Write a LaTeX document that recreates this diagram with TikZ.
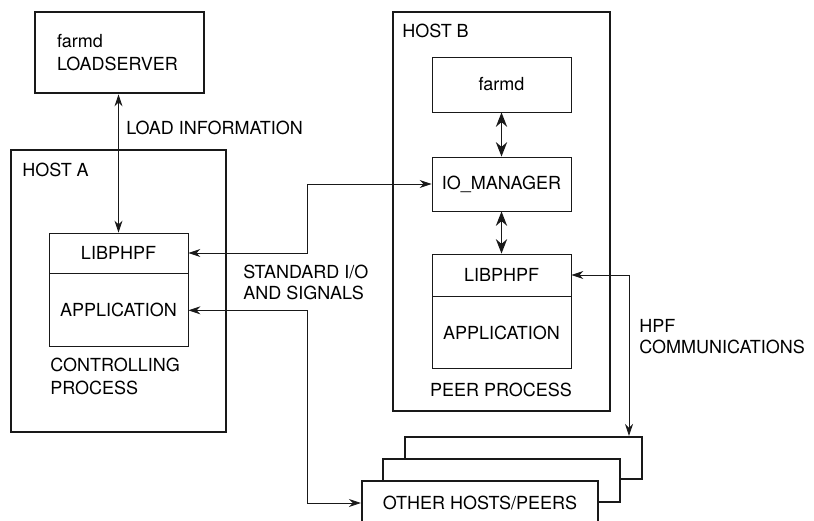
\documentclass[tikz,border=0pt]{standalone}
\usepackage{fontspec}
\setmainfont{TeX Gyre Heros}
\usepackage{xcolor}
\usepackage{tikz}
\usetikzlibrary{arrows.meta}
\definecolor{ink}{RGB}{25, 25, 25}
\tikzset{
  hostbox/.style={draw=ink,line width=1.9pt},
  partbox/.style={draw=ink,line width=0.6pt,minimum width=3.475cm},
  stackbox/.style={draw=ink,fill=white,line width=1.5pt,minimum width=5.925cm},
  link/.style={ink,line width=0.6pt,{Stealth[length=3mm,width=2mm]}-{Stealth[length=3mm,width=2mm]}},
  thicklink/.style={ink,line width=1.3pt,{Stealth[length=3.6mm,width=2.8mm]}-{Stealth[length=3.6mm,width=2.8mm]}}
}

\begin{document}
\begin{tikzpicture}[font=\fontsize{12.8}{14.8}\selectfont,inner sep=0pt]
\useasboundingbox (0,0) rectangle (20.35,-13.025);
% hosts and load server
\node[hostbox,minimum width=5.375cm,minimum height=7.05cm] (hostA) at (2.9625,-7.275) {};
\node[hostbox,minimum width=5.425cm,minimum height=9.975cm] (hostB) at (12.5375,-5.2875) {};
\node[hostbox,text width=3.125cm,inner xsep=0.55cm,minimum height=2.025cm,align=left] (ls) at (2.9875,-1.3125) {farmd\\[2pt]LOADSERVER};
\node[anchor=west] (hostAlbl) at (0.55,-4.25) {HOST A};
\node[anchor=west] (hostBlbl) at (10.05,-0.775) {HOST B};
% controlling process
\node[partbox,minimum height=1.0cm] (libA) at (2.9625,-6.325) {LIBPHPF};
\node[partbox,minimum height=1.825cm,anchor=north] (appA) at (libA.south) {APPLICATION};
\node[anchor=west,align=left] (ctrl) at (1.25,-9.4125) {CONTROLLING\\[2pt]PROCESS};
% peer process
\node[partbox,minimum height=1.375cm] (farmdB) at (12.5375,-2.1125) {farmd};
\node[partbox,minimum height=1.35cm] (io) at (12.5375,-4.6) {IO\_MANAGER};
\node[partbox,minimum height=1.05cm] (libB) at (12.5375,-6.875) {LIBPHPF};
\node[partbox,minimum height=1.8cm,anchor=north] (appB) at (libB.south) {APPLICATION};
\node (peer) at (12.525,-9.75) {PEER PROCESS};
% other hosts
\node[stackbox,minimum height=1.05cm] (peer3) at (13.0875,-11.45) {};
\node[stackbox,minimum height=1.075cm] (peer2) at (12.5375,-12.0125) {};
\node[stackbox,minimum width=5.9cm,minimum height=1.1cm] (others) at (12.0,-12.575) {OTHER HOSTS/PEERS};
% connectors
\coordinate (ioBus) at (7.675,0);
\coordinate (hpfBus) at (15.725,0);
\draw[link] (libA.north) -- (libA.north |- ls.south);
\draw[link] (libA.east) -- (libA.east -| ioBus) -- (io.west -| ioBus) -- (io.west);
\draw[link] (appA.east) -- (appA.east -| ioBus) -- (others.west -| ioBus) -- (others.west);
\draw[link] (libB.east) -- (libB.east -| hpfBus) -- (peer3.north -| hpfBus);
\draw[thicklink] (farmdB.south) -- (io.north);
\draw[thicklink] (io.south) -- (libB.north);
\node[anchor=west] (loadlbl) at (3.15,-3.2) {LOAD INFORMATION};
\node[anchor=west,align=left] (stdlbl) at (6.075,-7.0625) {STANDARD I/O\\AND SIGNALS};
\node[anchor=west,align=left] (hpflbl) at (15.975,-8.425) {HPF\\COMMUNICATIONS};
\end{tikzpicture}
\end{document}
